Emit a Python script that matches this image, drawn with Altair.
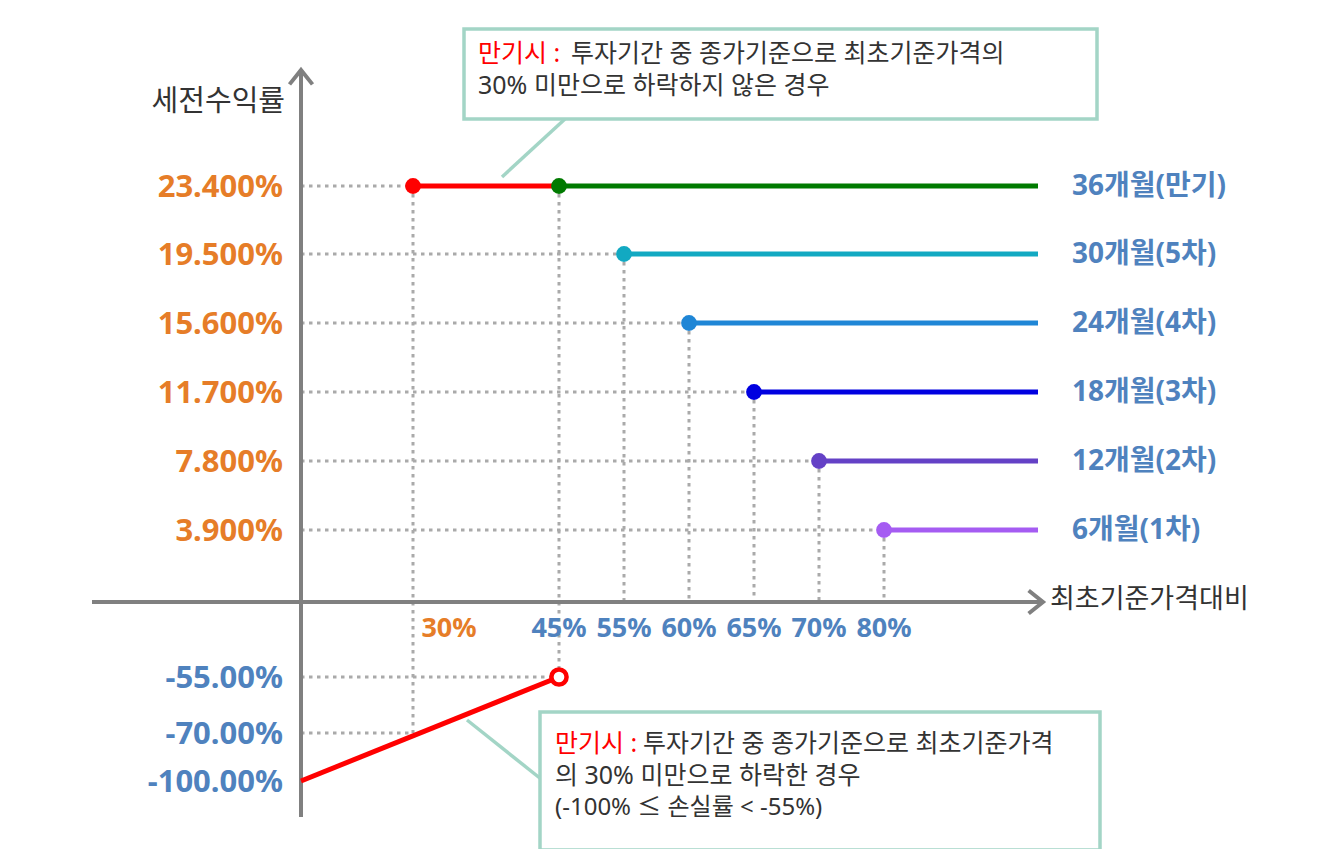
import altair as alt
import pandas as pd

# ---------------- data ----------------
levels = [23.4, 19.5, 15.6, 11.7, 7.8, 3.9]           # 세전수익률 (%)
triggers = [45, 55, 60, 65, 70, 80]                   # 최초기준가격대비 (%)
periods = ["36개월(만기)", "30개월(5차)", "24개월(4차)", "18개월(3차)", "12개월(2차)", "6개월(1차)"]
barrier = 30                                          # 만기 낙인 배리어 (%)
loss_levels = [-55, -70, -100]                        # 손실 구간 라벨 (%)
loss_x = [0, 45]                                      # 손실선 x (%)
loss_y = [-100, -55]                                  # 손실선 y (%)
x_ticks = [30, 45, 55, 60, 65, 70, 80]
line_end = 100

# ---------------- style ----------------
series_colors = ["#007A00", "#12A9C2", "#1F86D6", "#0000E0", "#6441C6", "#A55CF2"]
RED = "#FF0000"
ORANGE = "#E67D28"
BLUE = "#4F82BE"
AXIS = "#808080"
GUIDE = "#AAAAAA"
BOX = "#A3D5C6"
DARK = "#333333"
FONT = "'Noto Sans', 'Noto Sans CJK KR'"
OFF = 8  # page margin

# piecewise scales (schematic, non-linear axes)
X_DOM = [-60, 0, 30, 45, 55, 60, 65, 70, 80, 100, 110]
X_PX = [92, 301, 413, 559, 624, 689, 754, 819, 884, 1038, 1043]
Y_DOM = [-125, -100, -70, -55, 0, 3.9, 7.8, 11.7, 15.6, 19.5, 23.4, 32]
Y_PX = [817, 781, 733, 677, 602, 530, 461, 392, 323, 254, 186, 70]
xs = alt.Scale(domain=X_DOM, range=[p - OFF for p in X_PX], nice=False, zero=False)
ys = alt.Scale(domain=Y_DOM, range=[p - OFF for p in Y_PX], nice=False, zero=False)


def X(f):
    return alt.X(f, type="quantitative", scale=xs, axis=None)


def Y(f):
    return alt.Y(f, type="quantitative", scale=ys, axis=None)


def X2(f):
    return alt.X2(f)


def Y2(f):
    return alt.Y2(f)


# ---------------- tables ----------------
series = pd.DataFrame({"x": triggers, "x2": [line_end] * 6, "y": levels,
                       "c": series_colors, "label": periods})

hg = [{"x": 0, "x2": barrier, "y": levels[0]}]
hg += [{"x": 0, "x2": t, "y": l} for t, l in zip(triggers[1:], levels[1:])]
hg += [{"x": 0, "x2": loss_x[1], "y": loss_y[1]}, {"x": 0, "x2": barrier, "y": loss_levels[1]}]
hguides = pd.DataFrame(hg)

vg = [{"x": barrier, "y": levels[0], "y2": loss_levels[1]},
      {"x": triggers[0], "y": levels[0], "y2": loss_y[1]}]
vg += [{"x": t, "y": l, "y2": 0} for t, l in zip(triggers[1:], levels[1:])]
vguides = pd.DataFrame(vg)

ylab = pd.DataFrame({"x": 0, "y": levels + loss_levels,
                     "label": [f"{v:.3f}%" for v in levels] + [f"{v:.2f}%" for v in loss_levels],
                     "c": [ORANGE] * len(levels) + [BLUE] * len(loss_levels)})
xlab_blue = pd.DataFrame({"x": x_ticks[1:], "y": 0, "label": [f"{v}%" for v in x_ticks[1:]]})
xlab_bar = pd.DataFrame({"x": [barrier], "y": [0], "label": [f"{barrier}%"]})

red_seg = pd.DataFrame({"x": [barrier], "x2": [triggers[0]], "y": [levels[0]]})
loss = pd.DataFrame({"x": loss_x, "y": loss_y})
loss_pt = pd.DataFrame({"x": [loss_x[1]], "y": [loss_y[1]]})

xaxis = pd.DataFrame({"x": [X_DOM[0]], "x2": [X_DOM[-1]], "y": [0]})
yaxis = pd.DataFrame({"x": [0], "y": [Y_DOM[0]], "y2": [Y_DOM[-1]]})
xarrow = pd.DataFrame({"x": [X_DOM[-1]], "y": [0]})
yarrow = pd.DataFrame({"x": [0], "y": [Y_DOM[-1]]})

one = alt.Data(values=[{"a": 1}])

# ---------------- layers ----------------
layers = []

layers.append(alt.Chart(hguides).mark_rule(color=GUIDE, strokeWidth=3, strokeDash=[3.5, 4.5]).encode(
    x=X("x"), x2=X2("x2"), y=Y("y")))
layers.append(alt.Chart(vguides).mark_rule(color=GUIDE, strokeWidth=3, strokeDash=[3.5, 4.5]).encode(
    x=X("x"), y=Y("y"), y2=Y2("y2")))

layers.append(alt.Chart(xaxis).mark_rule(color=AXIS, strokeWidth=4).encode(
    x=X("x"), x2=X2("x2"), y=Y("y")))
layers.append(alt.Chart(yaxis).mark_rule(color=AXIS, strokeWidth=4).encode(
    x=X("x"), y=Y("y"), y2=Y2("y2")))
layers.append(alt.Chart(xarrow).mark_point(shape="M -1.25 -1 L 0 0 L -1.25 1", size=529, filled=False,
                                           stroke=AXIS, strokeWidth=4, opacity=1).encode(x=X("x"), y=Y("y")))
layers.append(alt.Chart(yarrow).mark_point(shape="M -1 1.25 L 0 0 L 1 1.25", size=529, filled=False,
                                           stroke=AXIS, strokeWidth=4, opacity=1).encode(x=X("x"), y=Y("y")))

layers.append(alt.Chart(series).mark_rule(strokeWidth=5).encode(
    x=X("x"), x2=X2("x2"), y=Y("y"), color=alt.Color("c:N", scale=None)))
layers.append(alt.Chart(red_seg).mark_rule(strokeWidth=5, color=RED).encode(
    x=X("x"), x2=X2("x2"), y=Y("y")))
layers.append(alt.Chart(loss).mark_line(strokeWidth=5, color=RED).encode(x=X("x"), y=Y("y")))

layers.append(alt.Chart(series).mark_circle(size=250, opacity=1).encode(
    x=X("x"), y=Y("y"), color=alt.Color("c:N", scale=None)))
layers.append(alt.Chart(red_seg).mark_circle(size=250, opacity=1, color=RED).encode(
    x=X("x"), y=Y("y")))
layers.append(alt.Chart(loss_pt).mark_point(shape="circle", size=230, fill="white", stroke=RED,
                                            strokeWidth=4.5, opacity=1, fillOpacity=1).encode(
    x=X("x"), y=Y("y")))

# labels
layers.append(alt.Chart(ylab).mark_text(align="right", baseline="middle", dx=-18, dy=2, fontSize=31,
                                        fontWeight="bold", font=FONT).encode(
    x=X("x"), y=Y("y"), text="label:N", color=alt.Color("c:N", scale=None)))
layers.append(alt.Chart(xlab_blue).mark_text(align="center", baseline="middle", dy=27, fontSize=27,
                                             fontWeight="bold", font=FONT, color=BLUE).encode(
    x=X("x"), y=Y("y"), text="label:N"))
layers.append(alt.Chart(xlab_bar).mark_text(align="center", baseline="middle", dx=36, dy=27, fontSize=27,
                                            fontWeight="bold", font=FONT, color=ORANGE).encode(
    x=X("x"), y=Y("y"), text="label:N"))
layers.append(alt.Chart(series).mark_text(align="left", baseline="middle", dx=34, dy=1, fontSize=28,
                                          fontWeight="bold", font=FONT, color=BLUE).encode(
    x=X("x2"), y=Y("y"), text="label:N"))

# axis titles
layers.append(alt.Chart(yarrow).mark_text(align="right", baseline="middle", dx=-16, dy=32, fontSize=29,
                                          font=FONT, color=DARK, text="세전수익률").encode(
    x=X("x"), y=Y("y")))
layers.append(alt.Chart(xarrow).mark_text(align="left", baseline="middle", dx=7, dy=-2, fontSize=27,
                                          font=FONT, color=DARK, text="최초기준가격대비").encode(
    x=X("x"), y=Y("y")))


# callouts
def px(v):
    return alt.value(v - OFF)


def box(x0, y0, x1, y1):
    return alt.Chart(one).mark_rect(fill="white", stroke=BOX, strokeWidth=3.5).encode(
        x=px(x0), x2=px(x1), y=px(y0), y2=px(y1))


def pointer(x0, y0, x1, y1):
    return alt.Chart(one).mark_rule(color=BOX, strokeWidth=3.5).encode(
        x=px(x0), y=px(y0), x2=px(x1), y2=px(y1))


def txt(x0, y0, s, color, size=25):
    return alt.Chart(one).mark_text(align="left", baseline="middle", fontSize=size, font=FONT,
                                    color=color, text=s).encode(x=px(x0), y=px(y0))


layers.append(pointer(565, 119, 502, 177))
layers.append(box(464, 29, 1097, 119))
layers.append(txt(478, 54, "만기시 :", RED))
layers.append(txt(571, 54, "투자기간 중 종가기준으로 최초기준가격의", DARK))
layers.append(txt(478, 86, "30% 미만으로 하락하지 않은 경우", DARK))

layers.append(pointer(467, 720, 541, 779))
layers.append(box(540, 712, 1100, 850))
layers.append(txt(555, 744, "만기시 :", RED))
layers.append(txt(643, 744, "투자기간 중 종가기준으로 최초기준가격", DARK))
layers.append(txt(555, 776, "의 30% 미만으로 하락한 경우", DARK))
layers.append(txt(555, 808, "(-100% ≤ 손실률 < -55%)", DARK, 24))

chart = alt.layer(*layers).properties(
    width=1308, height=841, autosize=alt.AutoSizeParams(type="none"), padding=0
).configure_view(stroke=None)

chart.save("out.html", embed_options={"renderer": "svg", "actions": False})
